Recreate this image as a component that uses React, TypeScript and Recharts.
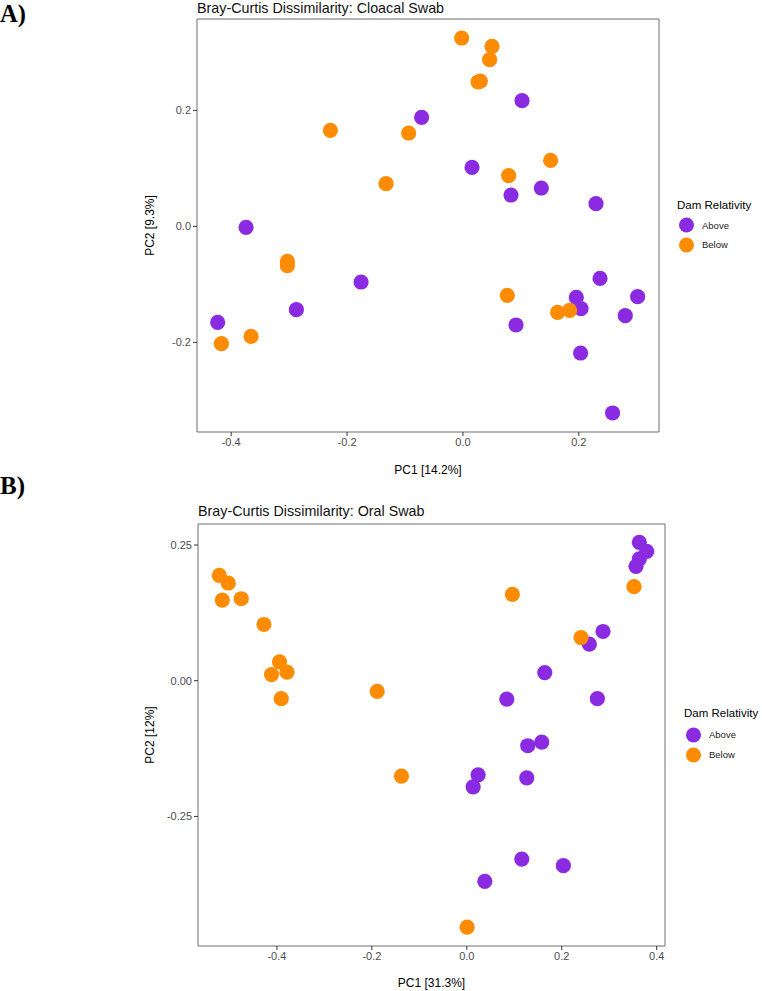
import React from "react";
import { ScatterChart, Scatter, XAxis, YAxis, ReferenceArea, Legend } from "recharts";

// Bray-Curtis PCoA scores
const cloacalAboveX = [0.102, -0.0713, 0.0157, 0.083, 0.1353, 0.2297, -0.3743, -0.1758, 0.2366, 0.1957, 0.2038, 0.3015, 0.2802, -0.4233, -0.2875, 0.0916, 0.2031, 0.2583];
const cloacalAboveY = [0.2167, 0.1879, 0.1017, 0.0541, 0.0662, 0.0391, -0.0017, -0.0959, -0.0897, -0.1224, -0.1419, -0.1212, -0.154, -0.1655, -0.1436, -0.17, -0.2183, -0.3217];
const cloacalBelowX = [-0.0022, 0.0502, 0.0461, 0.0261, 0.03, -0.2288, -0.0937, -0.1327, 0.1513, 0.0789, -0.303, -0.303, 0.0766, 0.1634, 0.1841, -0.4169, -0.3657];
const cloacalBelowY = [0.3248, 0.3103, 0.2874, 0.249, 0.2505, 0.1655, 0.161, 0.0736, 0.1138, 0.0874, -0.0603, -0.0678, -0.119, -0.1483, -0.1448, -0.2022, -0.1897];

const oralAboveX = [0.3634, 0.379, 0.3634, 0.3564, 0.2869, 0.2581, 0.1642, 0.0842, 0.275, 0.1284, 0.1579, 0.0238, 0.0133, 0.1263, 0.1158, 0.2034, 0.0379];
const oralAboveY = [0.255, 0.2384, 0.2243, 0.2107, 0.0907, 0.0674, 0.015, -0.034, -0.033, -0.1198, -0.113, -0.1734, -0.1955, -0.1789, -0.3285, -0.3407, -0.3696];
const oralBelowX = [-0.5215, -0.5025, -0.5152, -0.4752, -0.4274, -0.3945, -0.4114, -0.3789, -0.3909, -0.1888, -0.1377, 0.0006, 0.096, 0.2406, 0.3522];
const oralBelowY = [0.194, 0.18, 0.1486, 0.151, 0.1036, 0.0347, 0.0113, 0.0157, -0.033, -0.0198, -0.1758, -0.454, 0.159, 0.0796, 0.1732];

const cloacalXTicks = [-0.4, -0.2, 0, 0.2];
const cloacalYTicks = [-0.2, 0, 0.2];
const oralXTicks = [-0.4, -0.2, 0, 0.2, 0.4];
const oralYTicks = [-0.25, 0, 0.25];

const groups = ["Above", "Below"];
const COLORS = ["#8A2BE2", "#FF8C00"];

const SANS = "'Liberation Sans', Arial, sans-serif";
const SERIF = "'Liberation Serif', 'Times New Roman', serif";

const zip = (xs: number[], ys: number[]) => xs.map((x, i) => ({ x, y: ys[i] }));

const dot = (props: any) => <circle cx={props.cx} cy={props.cy} r={7.6} fill={props.fill} />;

function makeLegend(rowTop: number, rowGap: number) {
  return (props: any) => {
    const payload = props.payload ?? [];
    return (
      <div style={{ position: "relative", width: 90, height: 70, fontFamily: SANS }}>
        <div style={{ position: "absolute", left: 0, top: 0, fontSize: 11.5, lineHeight: "14px", color: "#000", whiteSpace: "nowrap" }}>
          Dam Relativity
        </div>
        {payload.map((entry: any, i: number) => (
          <div key={entry.value} style={{ position: "absolute", left: 0, top: rowTop + rowGap * i - 8, height: 16, display: "flex", alignItems: "center" }}>
            <svg width={19} height={16} style={{ display: "block" }}>
              <circle cx={9.5} cy={8} r={7.5} fill={entry.color} />
            </svg>
            <span style={{ marginLeft: 6, fontSize: 9.5, color: "#222" }}>{entry.value}</span>
          </div>
        ))}
      </div>
    );
  };
}

type PanelProps = {
  top: number;
  height: number;
  margin: { top: number; right: number; bottom: number; left: number };
  yAxisWidth: number;
  xAxisHeight: number;
  xDomain: [number, number];
  yDomain: [number, number];
  xTicks: number[];
  yTicks: number[];
  yDigits: number;
  xLabel: string;
  yLabel: string;
  xLabelOffset: number;
  series: { x: number; y: number }[][];
  legendLeft: number;
  legendTop: number;
  legendRowTop: number;
};

function Panel(p: PanelProps) {
  const tick = { fill: "#4D4D4D", fontSize: 11, fontFamily: SANS };
  return (
    <div style={{ position: "absolute", left: 0, top: p.top }}>
      <ScatterChart width={762} height={p.height} margin={p.margin}>
        <XAxis
          type="number"
          dataKey="x"
          domain={p.xDomain}
          ticks={p.xTicks}
          allowDataOverflow
          height={p.xAxisHeight}
          axisLine={false}
          tickLine={{ stroke: "#333" }}
          tickSize={4}
          tickMargin={2}
          tick={tick}
          tickFormatter={(v: number) => v.toFixed(1)}
          label={{ value: p.xLabel, position: "insideBottom", offset: p.xLabelOffset, fill: "#000", fontSize: 12, fontFamily: SANS }}
        />
        <YAxis
          type="number"
          dataKey="y"
          domain={p.yDomain}
          ticks={p.yTicks}
          allowDataOverflow
          width={p.yAxisWidth}
          axisLine={false}
          tickLine={{ stroke: "#333" }}
          tickSize={4}
          tickMargin={2}
          tick={tick}
          tickFormatter={(v: number) => v.toFixed(p.yDigits)}
          label={{
            value: p.yLabel,
            angle: -90,
            position: "insideLeft",
            offset: 150,
            fill: "#000",
            fontSize: 12,
            fontFamily: SANS,
            style: { textAnchor: "middle" },
          }}
        />
        <ReferenceArea
          x1={p.xDomain[0]}
          x2={p.xDomain[1]}
          y1={p.yDomain[0]}
          y2={p.yDomain[1]}
          fill="none"
          stroke="#6E6E6E"
          strokeWidth={1}
        />
        {groups.map((g, i) => (
          <Scatter key={g} name={g} data={p.series[i]} fill={COLORS[i]} shape={dot} isAnimationActive={false} />
        ))}
        <Legend
          layout="vertical"
          align="center"
          verticalAlign="middle"
          content={makeLegend(p.legendRowTop, 19.8)}
          wrapperStyle={{ left: p.legendLeft, top: p.legendTop, width: 90, height: 70 }}
        />
      </ScatterChart>
    </div>
  );
}

export default function App() {
  return (
    <div style={{ position: "absolute", left: 0, top: 0, width: 762, height: 991, background: "#fff", overflow: "hidden" }}>
      <Panel
        top={0}
        height={480}
        margin={{ top: 19, right: 103, bottom: 0, left: 0 }}
        yAxisWidth={197}
        xAxisHeight={48}
        xDomain={[-0.459, 0.3384]}
        yDomain={[-0.3545, 0.3576]}
        xTicks={cloacalXTicks}
        yTicks={cloacalYTicks}
        yDigits={1}
        xLabel="PC1 [14.2%]"
        yLabel="PC2 [9.3%]"
        xLabelOffset={6}
        series={[zip(cloacalAboveX, cloacalAboveY), zip(cloacalBelowX, cloacalBelowY)]}
        legendLeft={677}
        legendTop={198}
        legendRowTop={27}
      />
      <Panel
        top={480}
        height={511}
        margin={{ top: 44, right: 97, bottom: 0, left: 0 }}
        yAxisWidth={198}
        xAxisHeight={45}
        xDomain={[-0.5663, 0.4175]}
        yDomain={[-0.4887, 0.2887]}
        xTicks={oralXTicks}
        yTicks={oralYTicks}
        yDigits={2}
        xLabel="PC1 [31.3%]"
        yLabel="PC2 [12%]"
        xLabelOffset={4}
        series={[zip(oralAboveX, oralAboveY), zip(oralBelowX, oralBelowY)]}
        legendLeft={684}
        legendTop={226}
        legendRowTop={28.7}
      />
      <svg width={762} height={991} style={{ position: "absolute", left: 0, top: 0, pointerEvents: "none" }}>
        <text x={0} y={22} fontFamily={SERIF} fontWeight="bold" fontSize={24.5} fill="#000">A)</text>
        <text x={0} y={494} fontFamily={SERIF} fontWeight="bold" fontSize={25} fill="#000">B)</text>
        <text x={197} y={13} fontFamily={SANS} fontSize={14.3} fill="#111">Bray-Curtis Dissimilarity: Cloacal Swab</text>
        <text x={198} y={516} fontFamily={SANS} fontSize={14.3} fill="#111">Bray-Curtis Dissimilarity: Oral Swab</text>
      </svg>
    </div>
  );
}
